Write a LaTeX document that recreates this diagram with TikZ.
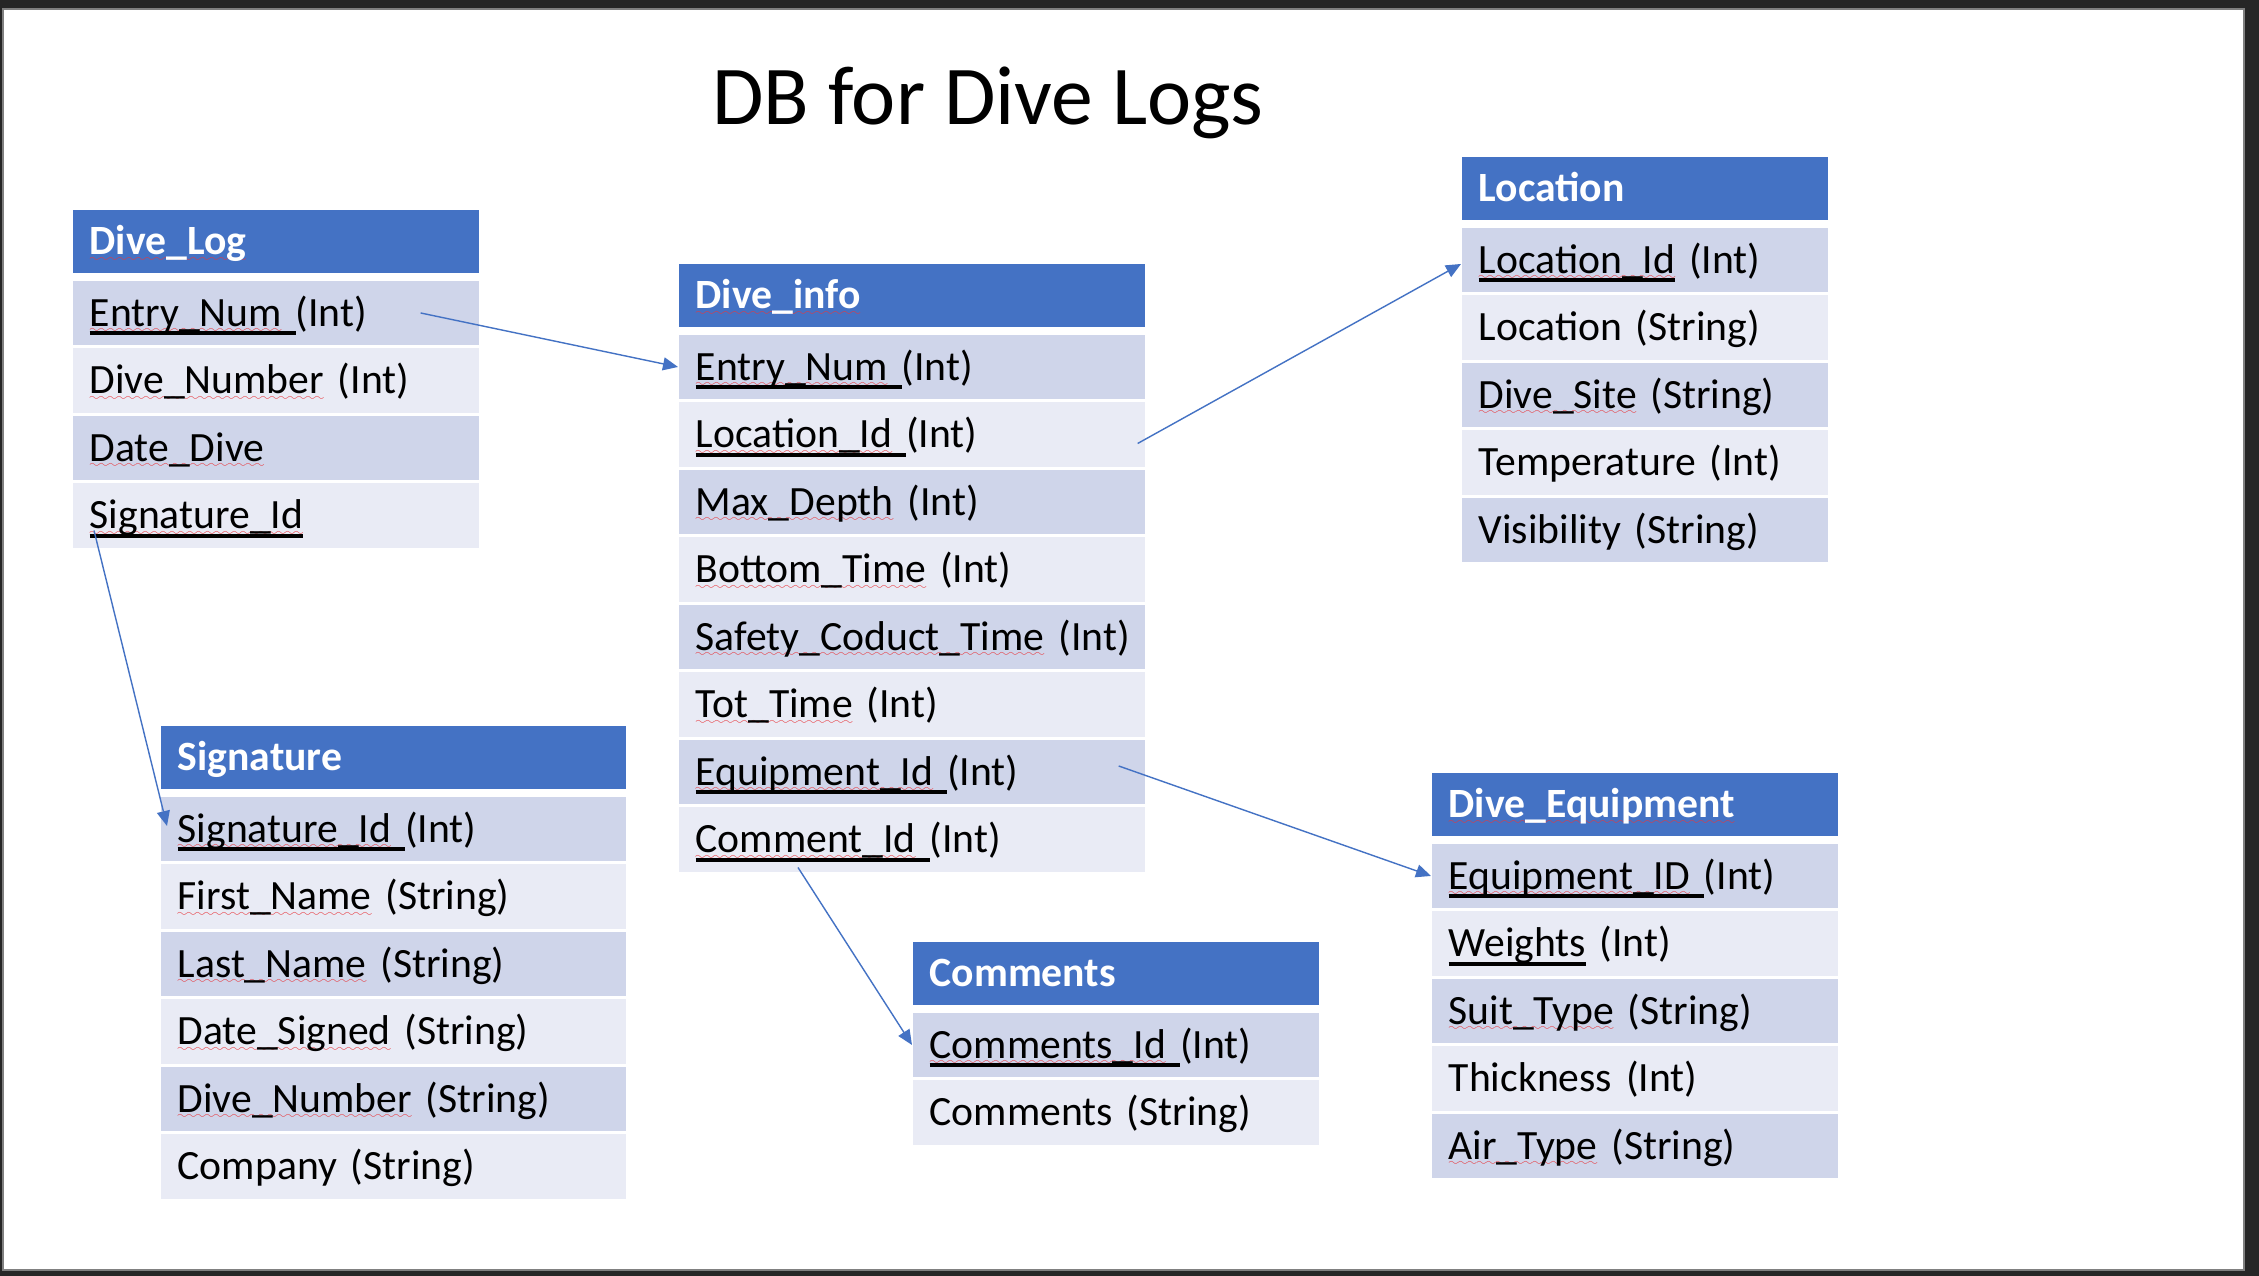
\documentclass[tikz,border=0pt]{standalone}
\usepackage{fontspec}
\setmainfont{Carlito}
\usetikzlibrary{arrows.meta,calc}

\definecolor{hdrblue}{HTML}{4472C4}
\definecolor{rowdark}{HTML}{CFD5EA}
\definecolor{rowlight}{HTML}{E9EBF5}
\definecolor{framedark}{HTML}{262626}
\definecolor{framegray}{HTML}{808080}
\definecolor{squigred}{HTML}{E8383D}

% spell-check wave and key underline
\font\wavefnt=lasy6 scaled 500
\newsavebox\sqbox
\newsavebox\ulbox
\newcommand{\squig}[1]{\sbox\sqbox{#1}\rlap{\color{squigred}\lower1.9pt\hbox to \wd\sqbox{\xleaders\hbox{\wavefnt\char58}\hfil}}\usebox\sqbox}
\newcommand{\keyul}[1]{\sbox\ulbox{#1}\rlap{\rule[-0.09cm]{\wd\ulbox}{0.038cm}}\usebox\ulbox}

\begin{document}
\begin{tikzpicture}[x=0.01cm, y=-0.01cm, >={Triangle[length=0.15cm,width=0.13cm]},
    tblhead/.style={fill=hdrblue, text=white, font=\fontsize{11.85}{14}\selectfont\bfseries,
      anchor=north west, minimum height=0.635cm, inner xsep=0.17cm, inner ysep=0pt,
      text height=0.265cm, text depth=0pt, align=left},
    tblfield/.style={font=\fontsize{11.85}{14}\selectfont, anchor=north west,
      minimum height=0.645cm, inner xsep=0.17cm, inner ysep=0pt,
      text height=0.265cm, text depth=0pt, align=left},
    fk/.style={->, draw=hdrblue, line width=0.4pt}]
  \useasboundingbox (0,0) rectangle (2259,1276);
  \fill[framedark] (0,0) rectangle (2259,1276);
  \filldraw[fill=white, draw=framegray, line width=0.02cm] (3,9) rectangle (2244,1270);

  \node[font=\fontsize{23.8}{28}\selectfont, text height=0.54cm, text depth=0pt, inner sep=0pt] (title) at (988,97) {DB for Dive Logs};

  % Dive_Log
  \node[tblhead, text width=3.72cm] (log0) at (72,209) {\squig{Dive\_Log}};
  \foreach \txt [count=\i] in {{\keyul{\squig{Entry\_Num}\ }(Int)}, {\squig{Dive\_Number} (Int)},
      {\squig{Date\_Dive}}, {\keyul{\squig{Signature\_Id}}}} {
    \ifodd\i \def\rowfill{rowdark}\else \def\rowfill{rowlight}\fi
    \node[tblfield, fill=\rowfill, text width=3.72cm] (log\i) at (72,{280+67.5*(\i-1)}) {\mbox{\txt}};
  }

  % Dive_info
  \node[tblhead, text width=4.32cm] (info0) at (678,263) {\squig{Dive\_info}};
  \foreach \txt [count=\i] in {{\keyul{\squig{Entry\_Num}\ }(Int)}, {\keyul{\squig{Location\_Id}\ }(Int)},
      {\squig{Max\_Depth} (Int)}, {\squig{Bottom\_Time} (Int)}, {\squig{Safety\_Coduct\_Time} (Int)},
      {\squig{Tot\_Time} (Int)}, {\keyul{\squig{Equipment\_Id}\ }(Int)}, {\keyul{\squig{Comment\_Id}\ }(Int)}} {
    \ifodd\i \def\rowfill{rowdark}\else \def\rowfill{rowlight}\fi
    \node[tblfield, fill=\rowfill, text width=4.32cm] (info\i) at (678,{334+67.5*(\i-1)}) {\mbox{\txt}};
  }

  % Location
  \node[tblhead, text width=3.32cm] (loc0) at (1461,156) {Location};
  \foreach \txt [count=\i] in {{\keyul{\squig{Location\_Id}} (Int)}, {Location (String)},
      {\squig{Dive\_Site} (String)}, {Temperature (Int)}, {Visibility (String)}} {
    \ifodd\i \def\rowfill{rowdark}\else \def\rowfill{rowlight}\fi
    \node[tblfield, fill=\rowfill, text width=3.32cm] (loc\i) at (1461,{227+67.5*(\i-1)}) {\mbox{\txt}};
  }

  % Signature
  \node[tblhead, text width=4.31cm] (sig0) at (160,725) {Signature};
  \foreach \txt [count=\i] in {{\keyul{\squig{Signature\_Id}\ }(Int)}, {\squig{First\_Name} (String)},
      {\squig{Last\_Name} (String)}, {\squig{Date\_Signed} (String)}, {\squig{Dive\_Number} (String)},
      {Company (String)}} {
    \ifodd\i \def\rowfill{rowdark}\else \def\rowfill{rowlight}\fi
    \node[tblfield, fill=\rowfill, text width=4.31cm] (sig\i) at (160,{796+67.5*(\i-1)}) {\mbox{\txt}};
  }

  % Dive_Equipment
  \node[tblhead, text width=3.72cm] (equip0) at (1431,772) {\squig{Dive\_Equipment}};
  \foreach \txt [count=\i] in {{\keyul{\squig{Equipment\_ID}\ }(Int)}, {\keyul{Weights} (Int)},
      {\squig{Suit\_Type} (String)}, {Thickness (Int)}, {\squig{Air\_Type} (String)}} {
    \ifodd\i \def\rowfill{rowdark}\else \def\rowfill{rowlight}\fi
    \node[tblfield, fill=\rowfill, text width=3.72cm] (equip\i) at (1431,{843+67.5*(\i-1)}) {\mbox{\txt}};
  }

  % Comments
  \node[tblhead, text width=3.72cm] (com0) at (912,941) {Comments};
  \foreach \txt [count=\i] in {{\keyul{\squig{Comments\_Id}\ }(Int)}, {Comments (String)}} {
    \ifodd\i \def\rowfill{rowdark}\else \def\rowfill{rowlight}\fi
    \node[tblfield, fill=\rowfill, text width=3.72cm] (com\i) at (912,{1012+67.5*(\i-1)}) {\mbox{\txt}};
  }

  % links
  \coordinate (logentry) at ($(log1.east)+(-59,0)$);
  \coordinate (logsig) at ($(log4.west)+(22,15)$);
  \coordinate (infoloc) at ($(info2.east)+(-8,9)$);
  \coordinate (infoequip) at ($(info7.east)+(-27,-6)$);
  \coordinate (infocom) at ($(info8.west)+(120,28)$);
  \draw[fk] (logentry) -- (info1.west);
  \draw[fk] (logsig) -- ($(sig1.west)+(7,-3)$);
  \draw[fk] (infoloc) -- ($(loc1.west)+(0,4)$);
  \draw[fk] (infoequip) -- (equip1.west);
  \draw[fk] (infocom) -- (com1.west);
\end{tikzpicture}
\end{document}
